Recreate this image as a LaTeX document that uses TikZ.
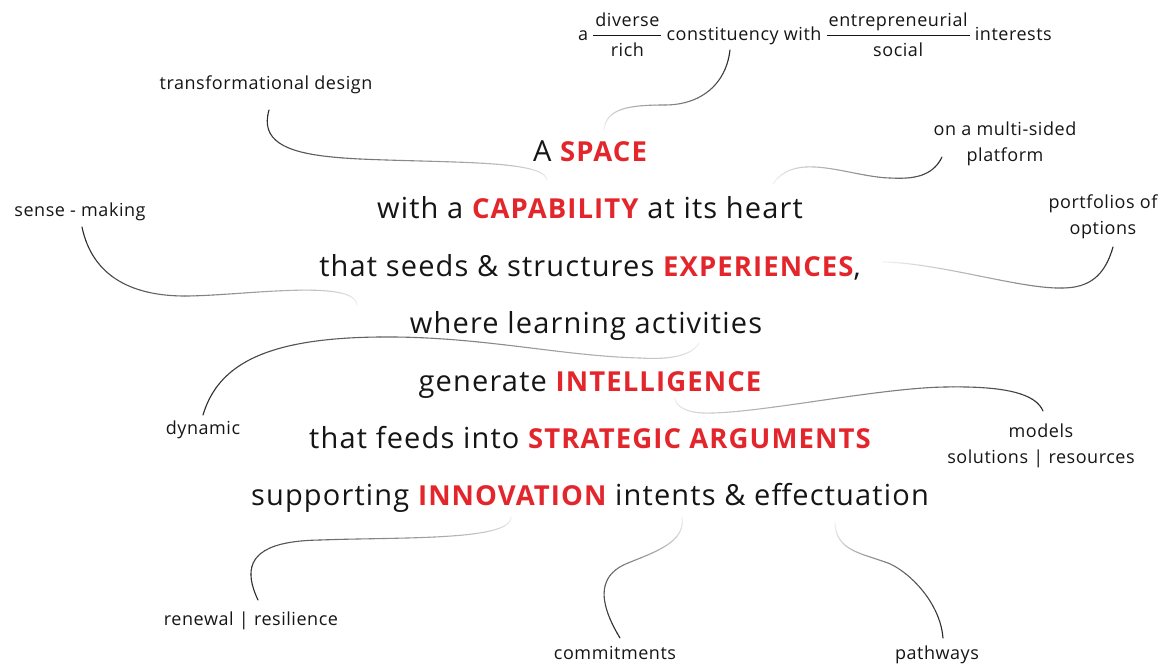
\documentclass[tikz,border=0pt]{standalone}
\usepackage{fontspec}
\setmainfont{Open Sans}
\newfontfamily\mainfam{Open Sans}[LetterSpace=4]
\newfontfamily\labfam{Open Sans}[LetterSpace=3]
\definecolor{accent}{HTML}{E3262C}
\definecolor{ink}{HTML}{151515}
\tikzset{
  mainline/.style={anchor=base, font=\mainfam\fontsize{29}{32}\selectfont, text=ink, inner sep=0pt},
  lab/.style={anchor=base, font=\labfam\fontsize{18}{26}\selectfont, text=ink, align=center, inner sep=0pt},
}
\newcommand\hl[1]{{\color{accent}\bfseries\fontsize{27.5}{30}\selectfont #1}}
\newcommand\stk[2]{{\setlength\arrayrulewidth{1pt}\renewcommand\arraystretch{1.1}\setlength\tabcolsep{2pt}\begin{tabular}{c}#1\\\hline #2\end{tabular}}}
% faded cubic: start name, c1 x y, c2 x y, end name, shade start, shade end
\newcommand\fc[8]{%
  \foreach \k in {0,...,19}{%
    \pgfmathsetmacro\ta{\k/20}%
    \pgfmathsetmacro\tb{(\k+1)/20}%
    \pgfmathsetmacro\sh{#7+(#8-#7)*(\k+0.5)/20}%
    \pgfsetstrokecolor{black!\sh}%
    \pgfsetlinewidth{1.1pt}%
    \pgfsetroundcap
    \pgfpathcurvebetweentime{\ta}{\tb}{\pgfpointanchor{#1}{center}}{\pgfpointxy{#2}{#3}}{\pgfpointxy{#4}{#5}}{\pgfpointanchor{#6}{center}}%
    \pgfusepath{stroke}%
  }}
\begin{document}
\begin{tikzpicture}[x=1pt,y=-1pt]
\useasboundingbox (0,0) rectangle (1165,664);
% main text
\node[mainline] (l1) at (590,161) {A \hl{SPACE}};
\node[mainline] (l2) at (590,218) {with a \hl{CAPABILITY} at its heart};
\node[mainline] (l3) at (590,276) {that seeds \& structures \hl{EXPERIENCES},};
\node[mainline] (l4) at (586,333) {where learning activities};
\node[mainline] (l5) at (590,391) {generate \hl{INTELLIGENCE}};
\node[mainline] (l6) at (590,448) {that feeds into \hl{STRATEGIC ARGUMENTS}};
\node[mainline] (l7) at (590,505) {supporting \hl{INNOVATION} intents \& effectuation};
% labels
\node[lab] (t1) at (815,40) {a \stk{diverse}{rich} constituency with \stk{entrepreneurial}{social} interests};
\node[lab] (t2) at (266,89) {transformational design};
\node[lab] (t3) at (1005,161) {on a multi-sided\\platform};
\node[lab] (t4) at (80,216) {sense - making};
\node[lab] (t5) at (1103,234) {portfolios of\\options};
\node[lab] (t6) at (203,434) {dynamic};
\node[lab] (t7) at (1041,463) {models\\solutions | resources};
\node[lab] (t8) at (251,625) {renewal | resilience};
\node[lab] (t9) at (615,659) {commitments};
\node[lab] (t10) at (937,659) {pathways};
% connector points
\coordinate (a1) at (730,50);  \coordinate (m1) at (665,105); \coordinate (b1) at (604,130);
\coordinate (a2) at (269,110); \coordinate (m2) at (360,159); \coordinate (b2) at (547,180);
\coordinate (a3) at (942,157); \coordinate (m3) at (890,178); \coordinate (b3) at (773,184);
\coordinate (a4) at (1113,247); \coordinate (m4) at (1062,288); \coordinate (b4) at (883,262);
\coordinate (a5) at (82,227); \coordinate (m5) at (185,296); \coordinate (b5) at (357,305);
\coordinate (a6) at (203,415); \coordinate (m6) at (380,337); \coordinate (n6) at (640,358); \coordinate (b6) at (699,343);
\coordinate (a7) at (1043,411); \coordinate (m7) at (945,387); \coordinate (n7) at (712,413); \coordinate (b7) at (675,398);
\coordinate (a8) at (258,600); \coordinate (m8) at (320,540); \coordinate (b8) at (511,517);
\coordinate (a9) at (620,638); \coordinate (m9) at (628,563); \coordinate (b9) at (682,517);
\coordinate (a10) at (943,638); \coordinate (m10) at (885,562); \coordinate (b10) at (835,523);
% connectors (dark at label, fading toward main text)
\fc{a1}{726}{85}{700}{105}{m1}{85}{45}
\fc{m1}{630}{105}{606}{108}{b1}{45}{5}
\fc{a2}{258}{148}{300}{156}{m2}{85}{55}
\fc{m2}{450}{163}{545}{160}{b2}{55}{5}
\fc{a3}{932}{178}{910}{179}{m3}{85}{55}
\fc{m3}{850}{177}{795}{150}{b3}{55}{5}
\fc{a4}{1105}{275}{1090}{288}{m4}{85}{60}
\fc{m4}{1020}{289}{940}{263}{b4}{60}{5}
\fc{a5}{92}{275}{130}{296}{m5}{85}{55}
\fc{m5}{240}{296}{355}{278}{b5}{55}{5}
\fc{a6}{218}{365}{265}{338}{m6}{85}{60}
\fc{m6}{480}{336}{560}{356}{n6}{60}{25}
\fc{n6}{672}{360}{692}{355}{b6}{25}{5}
\fc{a7}{1035}{392}{1000}{386}{m7}{85}{60}
\fc{m7}{880}{388}{765}{412}{n7}{60}{20}
\fc{n7}{690}{414}{676}{408}{b7}{20}{5}
\fc{a8}{240}{562}{255}{541}{m8}{85}{60}
\fc{m8}{400}{537}{512}{541}{b8}{60}{5}
\fc{a9}{600}{605}{595}{576}{m9}{85}{50}
\fc{m9}{655}{552}{686}{542}{b9}{50}{5}
\fc{a10}{940}{600}{905}{568}{m10}{85}{50}
\fc{m10}{860}{553}{836}{550}{b10}{50}{5}
\end{tikzpicture}
\end{document}
